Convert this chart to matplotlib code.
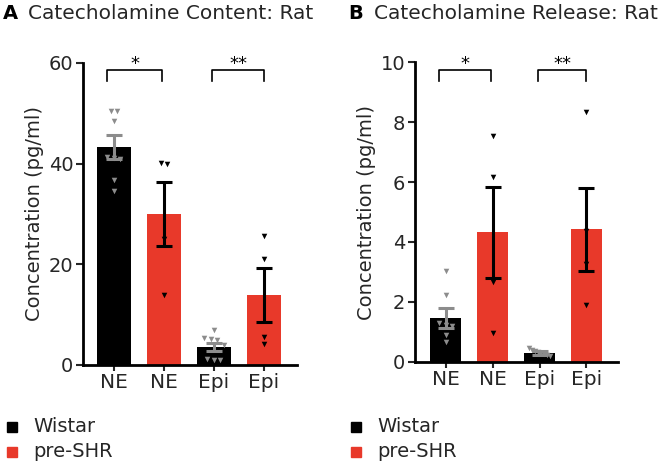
import matplotlib
matplotlib.use("Agg")
import matplotlib.pyplot as plt
import numpy as np

plt.rcParams['font.family'] = ['DejaVu Sans']

categories = ["NE", "NE", "Epi", "Epi"]
groups = ["Wistar", "pre-SHR", "Wistar", "pre-SHR"]

# Panel A: content
a_means = [43.3, 30.0, 3.65, 13.9]
a_sem = [2.3, 6.3, 0.8, 5.4]
a_points = [
    [50.5, 50.4, 48.4, 41.3, 41.1, 40.9, 36.8, 34.5],
    [40.0, 40.2, 25.0, 13.9],
    [6.9, 5.3, 5.1, 4.9, 4.0, 1.2, 1.0, 1.0],
    [25.6, 21.1, 5.5, 4.2],
]
# Panel B: release
b_means = [1.47, 4.32, 0.30, 4.42]
b_sem = [0.33, 1.53, 0.06, 1.39]
b_points = [
    [3.03, 2.23, 1.28, 1.22, 1.20, 0.89, 0.67],
    [7.54, 6.16, 2.65, 0.95],
    [0.45, 0.40, 0.36, 0.33, 0.30, 0.27, 0.22, 0.20],
    [8.33, 4.37, 3.26, 1.89],
]

titles = [("A", "Catecholamine Content: Rat"), ("B", "Catecholamine Release: Rat")]
ylabel = "Concentration (pg/ml)"
legend_labels = ["Wistar", "pre-SHR"]
sig_labels = ["*", "**"]

RED = "#E8392A"
TXT = "#262626"
bar_colors = ["black", RED, "black", RED]
pt_colors = ["#8c8c8c", "black", "#8c8c8c", "black"]
err_colors = ["#8c8c8c", "black", "#8c8c8c", "black"]


def spread(vals, thr, step=0.13, maxw=0.45):
    vals = np.asarray(vals, float)
    order = np.argsort(-vals)
    offs = np.zeros(len(vals))
    groups_ = []
    cur = [order[0]]
    for i in order[1:]:
        if abs(vals[cur[-1]] - vals[i]) < thr:
            cur.append(i)
        else:
            groups_.append(cur)
            cur = [i]
    groups_.append(cur)
    for g in groups_:
        n = len(g)
        st = min(step, maxw / max(n - 1, 1))
        for k, idx in enumerate(g):
            offs[idx] = (k - (n - 1) / 2) * st
    return offs


fig = plt.figure(figsize=(6.66, 4.62), dpi=100)
axA = fig.add_axes([0.1246, 0.210, 0.3213, 0.6537])
axB = fig.add_axes([0.6231, 0.2171, 0.3048, 0.648])

panels = [
    (axA, a_means, a_sem, a_points, (0, 60), [0, 20, 40, 60], (-0.62, 3.66), 0.68, 1.2,
     [(-0.14, 0.97), (1.97, 3.0)], 58.6, 2.1),
    (axB, b_means, b_sem, b_points, (0, 10), [0, 2, 4, 6, 8, 10], (-0.65, 3.67), 0.66, 0.15,
     [(-0.14, 0.97), (1.96, 3.0)], 9.74, 0.36),
]

x = np.arange(len(categories))
for (ax, means, sem, pts, ylim, yticks, xlim, bw, thr, brs, bry, brh) in panels:
    ax.bar(x, means, width=bw, color=bar_colors, zorder=1)
    for i in range(len(x)):
        ax.errorbar(x[i], means[i], yerr=sem[i], color=err_colors[i], capsize=6,
                    elinewidth=2.2, capthick=2.2, zorder=3, fmt='none')
        offs = spread(pts[i], thr)
        ax.scatter(x[i] + offs, pts[i], marker='v', s=16, color=pt_colors[i],
                   zorder=4, linewidths=0)
    for (x0, x1), lab in zip(brs, sig_labels):
        ax.plot([x0, x0, x1, x1], [bry - brh, bry, bry, bry - brh], color='black',
                lw=1.2, clip_on=False, zorder=5)
        ax.annotate(lab, xy=((x0 + x1) / 2, bry), xytext=(0, 0.5),
                    textcoords='offset points', ha='center', va='baseline',
                    fontsize=13, color='black', annotation_clip=False)
    ax.set_ylim(*ylim)
    ax.set_xlim(*xlim)
    ax.set_yticks(yticks)
    ax.set_xticks(x)
    ax.set_xticklabels(categories, fontsize=14.5)
    ax.tick_params(axis='y', labelsize=14, length=5, width=1.5, direction='out', pad=2,
                   colors=TXT)
    ax.tick_params(axis='x', length=4, width=1.5, direction='out', pad=2, colors=TXT)
    for s in ['top', 'right']:
        ax.spines[s].set_visible(False)
    for s in ['left', 'bottom']:
        ax.spines[s].set_linewidth(2)
    ax.set_ylabel(ylabel, fontsize=14, color=TXT, labelpad=3)

# Titles
for (letter, title), xpos in zip(titles, [0.004, 0.523]):
    fig.text(xpos, 0.97, letter, fontsize=14, fontweight='bold', va='center', ha='left')
    fig.text(xpos + 0.038, 0.97, title, fontsize=14.5, va='center', ha='left', color=TXT)

# Legends
for xpos in [0.011, 0.527]:
    for j, (lab, col) in enumerate(zip(legend_labels, ["black", RED])):
        yy = 0.076 - j * 0.054
        fig.patches.append(plt.Rectangle((xpos, yy - 0.0108), 0.015, 0.0216,
                                         transform=fig.transFigure, color=col))
        fig.text(xpos + 0.039, yy, lab, fontsize=14, va='center', ha='left', color=TXT)

fig.savefig("out.png", dpi=100)
